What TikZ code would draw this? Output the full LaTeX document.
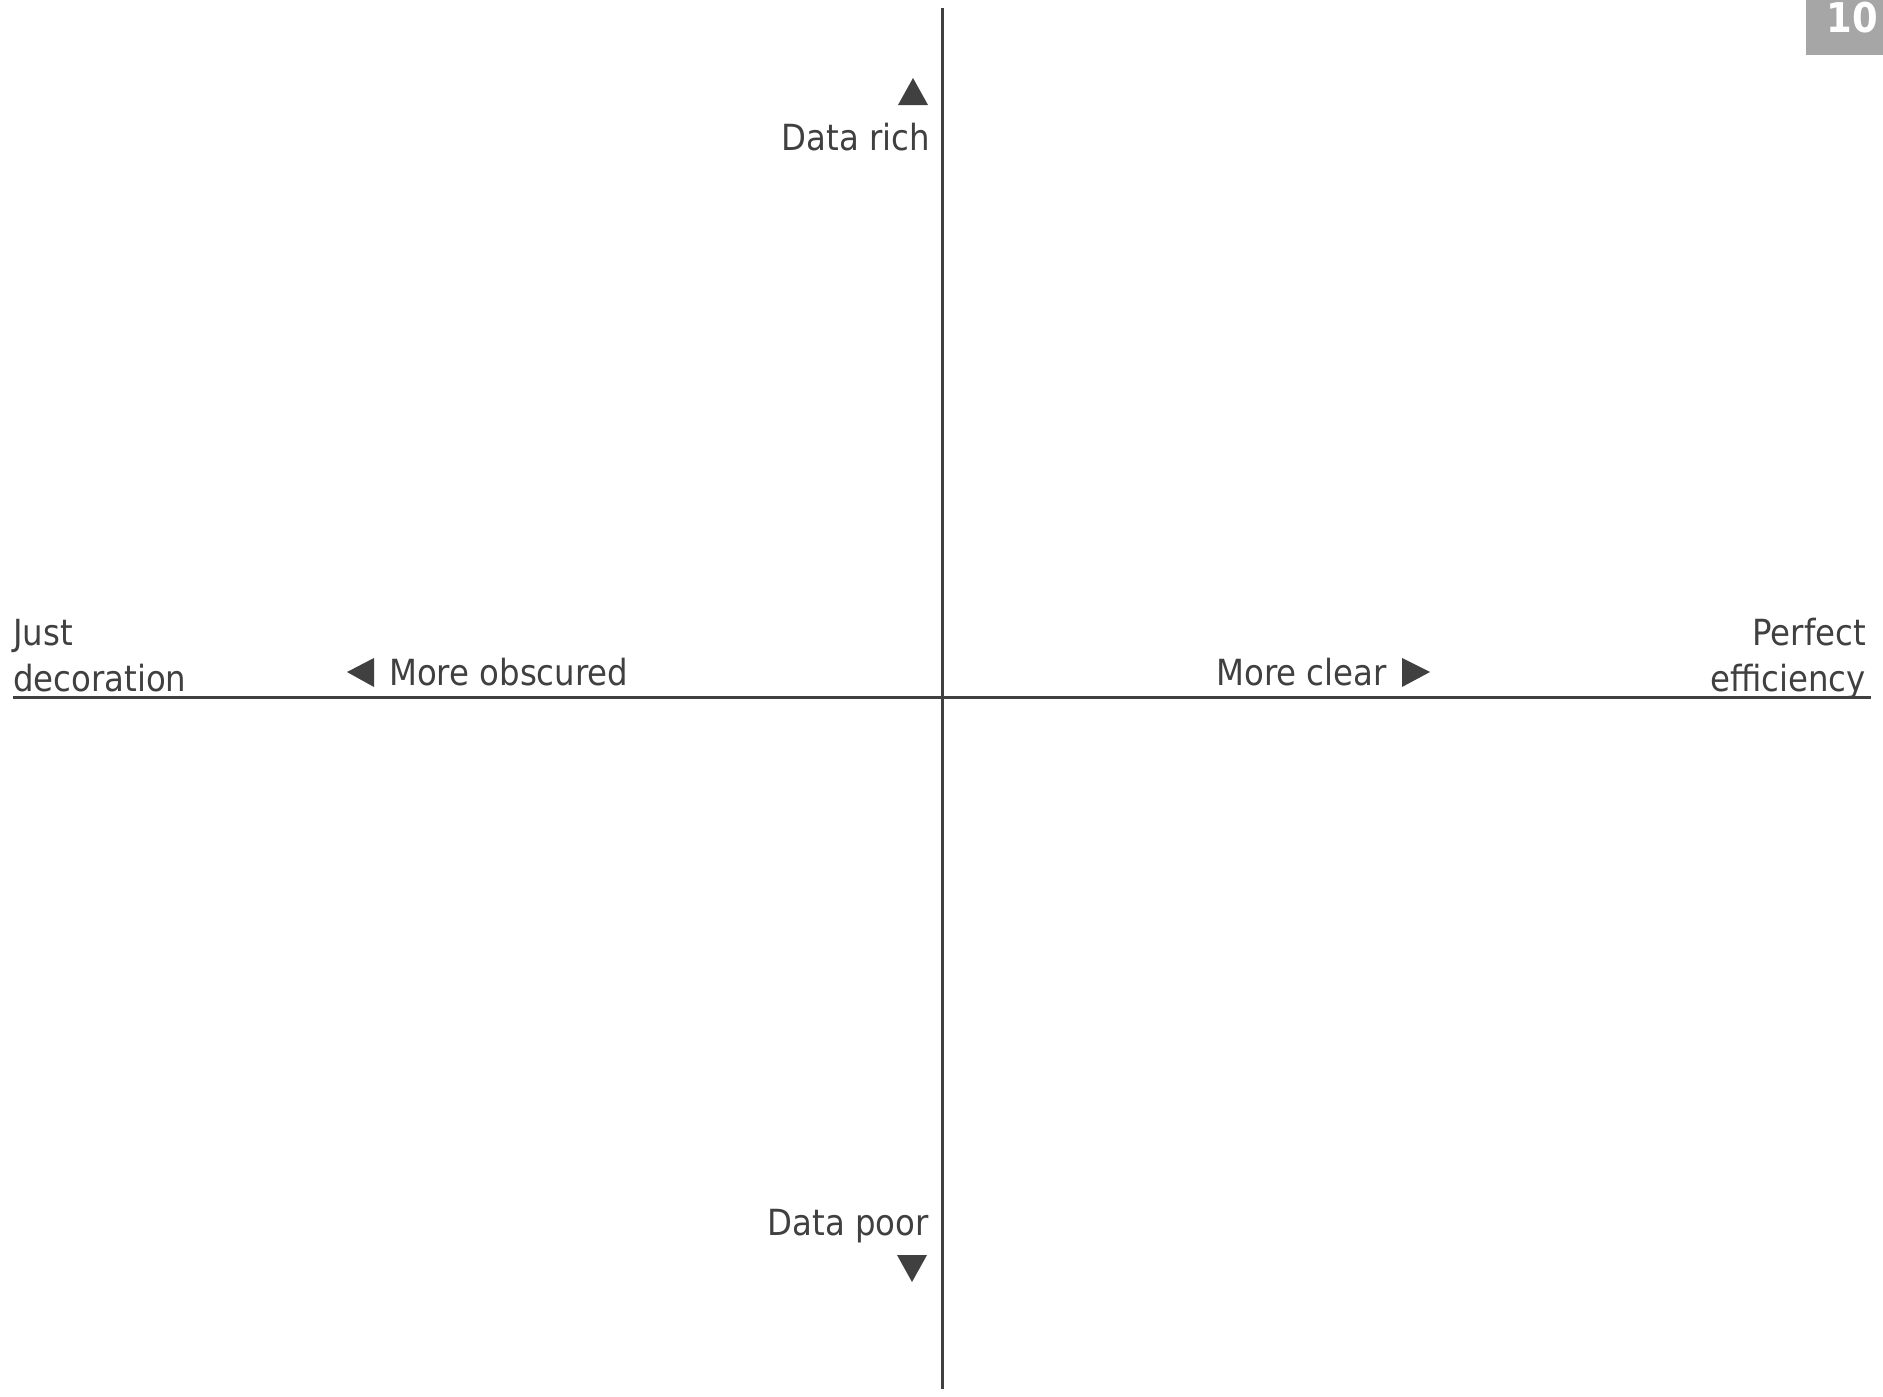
\documentclass[tikz,border=0pt]{standalone}
\usepackage{fontspec}
\setmainfont{DejaVu Sans Condensed}
\definecolor{ink}{HTML}{404040}
\definecolor{badge}{HTML}{A6A6A6}
\tikzset{
  lbl/.style={inner sep=0pt, text=ink, font=\fontsize{36}{46}\selectfont},
  axis/.style={draw=ink, line width=3pt},
  tri/.style={fill=ink, draw=none}
}
\begin{document}
\begin{tikzpicture}[x=1pt,y=-1pt]
\useasboundingbox (0,0) rectangle (1883,1397);
% axes
\coordinate (vt) at (942,8);
\coordinate (vb) at (942,1389);
\coordinate (hl) at (13,697);
\coordinate (hr) at (1871,697);
\draw[axis] (vt) -- (vb);
\draw[axis] (hl) -- (hr);
% badge
\fill[badge] (1806,0) rectangle (1883,55);
\node[inner sep=0pt, text=white, font=\fontsize{41}{41}\selectfont\bfseries, anchor=base] (num) at (1852,33) {10};
% top label
\fill[tri] (898,105) -- (928,105) -- (913,78) -- cycle;
\node[lbl, anchor=base east] (rich) at (930,150) {Data rich};
% bottom label
\node[lbl, anchor=base east] (poor) at (929,1235) {Data poor};
\fill[tri] (897,1255) -- (927,1255) -- (912,1282) -- cycle;
% left
\node[lbl, anchor=base west, align=left] (just) at (13,691) {Just\\decoration};
\fill[tri] (347,672) -- (374,658) -- (374,687) -- cycle;
\node[lbl, anchor=base west] (obsc) at (389,685) {More obscured};
% right
\node[lbl, anchor=base east] (clear) at (1387,685) {More clear};
\fill[tri] (1402,658) -- (1402,687) -- (1430,672) -- cycle;
\node[lbl, anchor=base east, align=right] (perf) at (1866,691) {Perfect\\efficiency};
\end{tikzpicture}
\end{document}
